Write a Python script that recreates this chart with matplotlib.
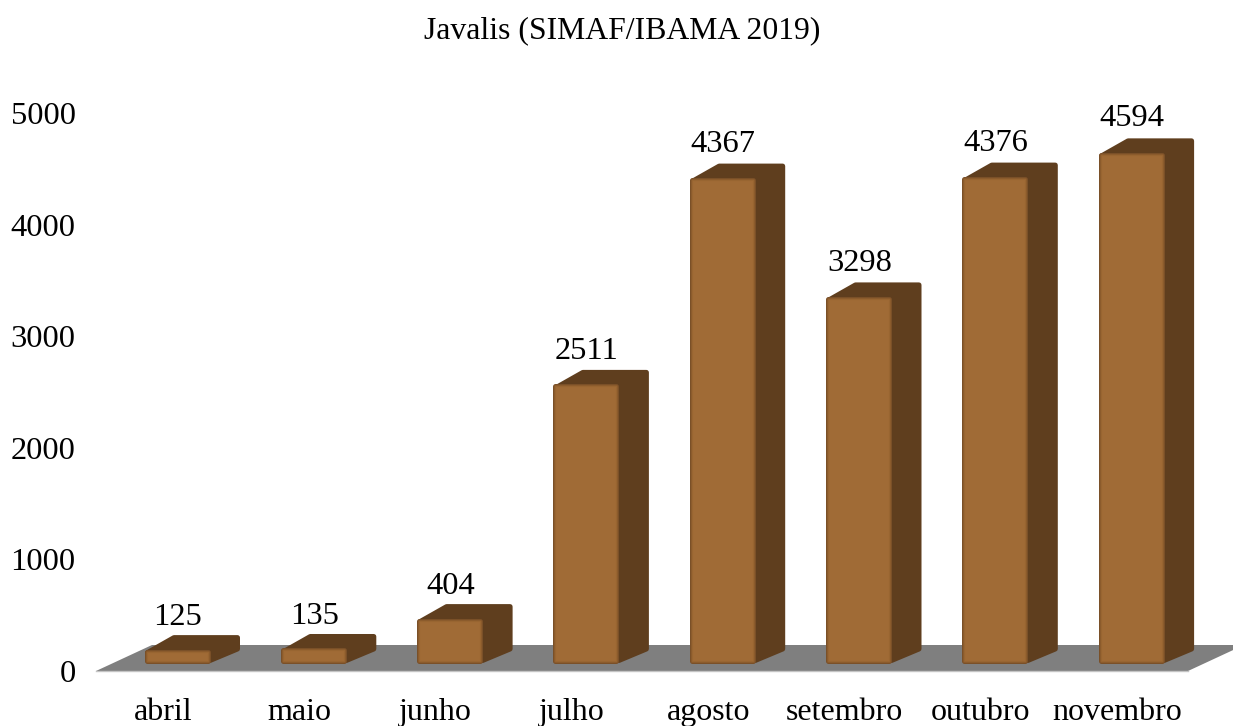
import numpy as np
import matplotlib
matplotlib.use("Agg")
import matplotlib.pyplot as plt

plt.rcParams['font.family'] = ['Liberation Serif', 'DejaVu Serif']

meses = ['abril', 'maio', 'junho', 'julho', 'agosto', 'setembro', 'outubro', 'novembro']
valores = [125, 135, 404, 2511, 4367, 3298, 4376, 4594]
yticks = [0, 1000, 2000, 3000, 4000, 5000]

W, H = 1233, 726
fig = plt.figure(figsize=(W / 100, H / 100), dpi=100)
# axes box in pixels: y=0 on the front edge of the floor
left, right, bottom, top = 96, 1233, 671, 113
ax = fig.add_axes([left / W, 1 - bottom / H, (right - left) / W, (bottom - top) / H])

step = 136.3
x0 = (163 - left) / step
ax.set_xlim(-x0, (right - 163) / step)
ax.set_ylim(0, 5000)
for s in ax.spines.values():
    s.set_visible(False)

x = np.arange(len(meses))
px_y = 5000 / (bottom - top)   # value units per pixel
px_x = 1 / step

largura = 66 * px_x
desl = 14 * px_x        # front face sits a bit to the right of the tick
base = 8 * px_y         # and a bit above the floor edge
dx = 30 * px_x
dy = 14 * px_y
esc = 0.996             # bars come out slightly shorter than the tick spacing
ins = 2.5               # inset in px, the thick round edges grow back over it

frente = '#a06b36'
topo = '#5f3e1e'

# floor
fx0, fx1 = -x0, (1188 - 163) / step
fdx, fdy = 56 * px_x, 26 * px_y
ax.fill([fx0, fx1, fx1 + fdx, fx0 + fdx], [0, 0, fdy, fdy], color='#7f7f7f', lw=0, zorder=1, clip_on=False)
ax.plot([fx0, fx1], [0, 0], color='#c4c4c4', lw=1, zorder=1, clip_on=False)

for xi, v in zip(x, valores):
    xl = xi + desl - largura / 2
    xr = xl + largura
    yb, yt = base, base + v * esc
    # side and top as one outline so the corners come out round
    sx = [xl + 1.4 * ins * px_x, xl + dx, xr + dx - ins * px_x, xr + dx - ins * px_x, xr]
    sy = [yt - 1.4 * ins * px_y, yt + dy - ins * px_y, yt + dy - ins * px_y, yb + dy, yb + ins * px_y]
    ax.fill(sx, sy, color=topo, ec=topo, lw=3.6, joinstyle='round', zorder=2)
    ax.text(xi + desl + 1 * px_x, base + v + dy + 3 * px_y, str(v), ha='center', va='bottom', fontsize=23.4, color='black', zorder=5)

altura = [v * esc - 2 * ins * px_y for v in valores]
for lw, cor in [(3.6, '#7a5028'), (2.2, '#8b5b2c'), (0.8, '#986531')]:
    ax.bar(x + desl, altura, width=largura - 2 * ins * px_x, bottom=base + ins * px_y, color=frente,
           edgecolor=cor, linewidth=lw, joinstyle='round', zorder=3)

ax.set_yticks(yticks)
ax.set_xticks(x)
ax.set_xticklabels(meses)
ax.tick_params(axis='both', length=0, colors='black')
ax.tick_params(axis='y', labelsize=23.4, pad=14.7)
ax.tick_params(axis='x', labelsize=23, pad=19.3)

fig.text(622 / W, 1 - 31 / H, 'Javalis (SIMAF/IBAMA 2019)', ha='center', va='center', fontsize=22.9)

fig.savefig('out.png', dpi=100)
